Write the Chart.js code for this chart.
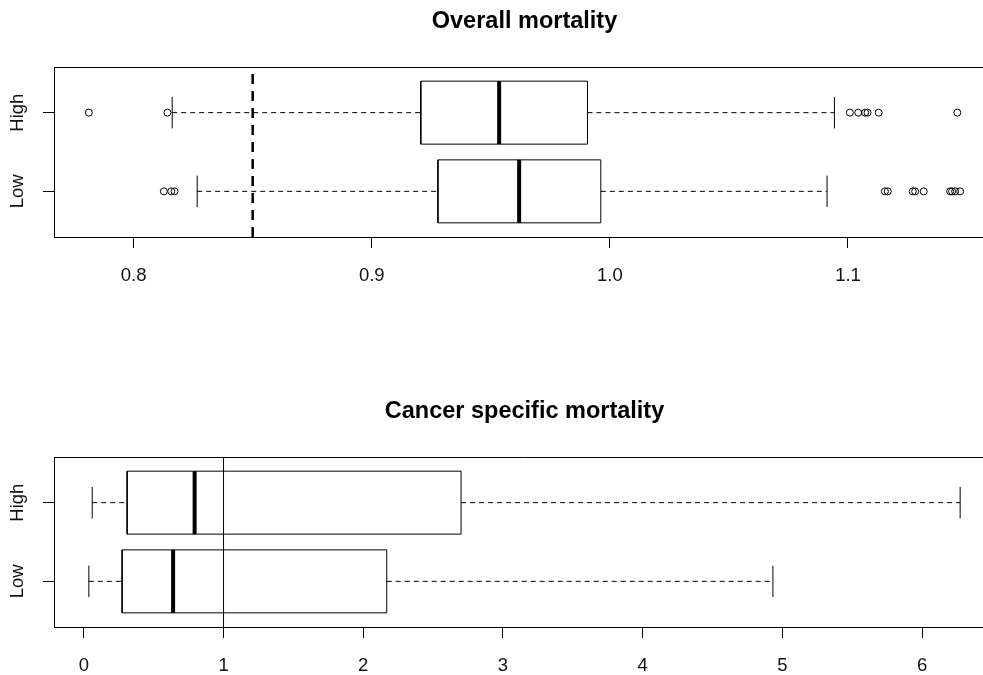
<!DOCTYPE html>
<html lang="en">
<head>
  <meta charset="UTF-8" />
  <title>Overall and cancer specific mortality</title>
  <script src="https://cdn.jsdelivr.net/npm/chart.js@4"></script>
  <style>
    html, body { margin: 0; padding: 0; background: #fff; overflow: hidden; width: 983px; height: 675px; }
    canvas { position: absolute; left: 0; }
    #overallChart { top: 0; }
    #cancerChart { top: 390px; }
  </style>
</head>
<body>
  <canvas id="overallChart" width="1030" height="285"></canvas>
  <canvas id="cancerChart" width="1030" height="285"></canvas>

  <script>
    // groups sit at y = 1 (Low) and y = 2 (High), like R's boxplot
    const groups = ['Low', 'High'];

    // Overall mortality (values per group, Low then High)
    const overallWhiskerLow  = [0.8267, 0.8162];
    const overallQ1          = [0.9278, 0.9206];
    const overallMedian      = [0.9619, 0.9535];
    const overallQ3          = [0.9962, 0.9906];
    const overallWhiskerHigh = [1.0912, 1.0943];
    const overallOutliersLow  = [0.8127, 0.8158, 0.8172, 1.1155, 1.1167, 1.1272, 1.1282, 1.1318, 1.1429, 1.1437, 1.1450, 1.1471];
    const overallOutliersHigh = [0.7812, 0.8142, 1.1008, 1.1043, 1.1072, 1.1082, 1.1129, 1.1459];
    const overallRefLine = 0.85;
    const overallTicks = [0.8, 0.9, 1.0, 1.1];

    // Cancer specific mortality
    const cancerWhiskerLow  = [0.036, 0.06];
    const cancerQ1          = [0.274, 0.31];
    const cancerMedian      = [0.639, 0.793];
    const cancerQ3          = [2.168, 2.70];
    const cancerWhiskerHigh = [4.932, 6.272];
    const cancerOutliersLow  = [];
    const cancerOutliersHigh = [];
    const cancerRefLine = 1;
    const cancerTicks = [0, 1, 2, 3, 4, 5, 6];

    const FONT = '"Liberation Sans", Arial, sans-serif';
    const BOX_HALF = 0.4;   // boxwex 0.8
    const CAP_HALF = 0.2;   // staplewex 0.5
    const Y_MIN = 0.5 - 0.04 * 2;
    const Y_MAX = 2.5 + 0.04 * 2;

    function line(points, width, dash) {
      return {
        data: points,
        showLine: true,
        borderColor: '#000',
        borderWidth: width,
        borderDash: dash || [],
        pointRadius: 0,
        pointHoverRadius: 0,
        fill: false
      };
    }

    // top and right edge of the box round the plot (axes give the other two)
    const framePlugin = {
      id: 'frame',
      afterDraw(chart) {
        const a = chart.chartArea;
        const ctx = chart.ctx;
        const t = Math.round(a.top) + 0.5, r = Math.round(a.right) - 0.5;
        ctx.save();
        ctx.strokeStyle = '#000';
        ctx.lineWidth = 1;
        ctx.beginPath();
        ctx.moveTo(a.left, t);
        ctx.lineTo(r, t);
        ctx.lineTo(r, a.bottom);
        ctx.stroke();
        ctx.restore();
      }
    };

    function drawBoxplot(id, title, wLow, q1, med, q3, wHigh, outLow, outHigh, ref, refWidth, refDash, ticks, decimals) {
      const datasets = [];
      // reference line first so it is drawn on top
      datasets.push(line([{ x: ref, y: Y_MIN }, { x: ref, y: Y_MAX }], refWidth, refDash));

      const outliers = [outLow, outHigh];
      let all = [];
      groups.forEach((g, i) => {
        const y = i + 1;
        datasets.push(line([{ x: med[i], y: y - BOX_HALF }, { x: med[i], y: y + BOX_HALF }], 4));
        datasets.push(line([
          { x: q1[i], y: y - BOX_HALF }, { x: q3[i], y: y - BOX_HALF },
          { x: q3[i], y: y + BOX_HALF }, { x: q1[i], y: y + BOX_HALF },
          { x: q1[i], y: y - BOX_HALF }
        ], 1));
        datasets.push(line([{ x: wLow[i], y: y }, { x: q1[i], y: y }], 1, [5, 4]));
        datasets.push(line([{ x: q3[i], y: y }, { x: wHigh[i], y: y }], 1, [5, 4]));
        datasets.push(line([{ x: wLow[i], y: y - CAP_HALF }, { x: wLow[i], y: y + CAP_HALF }], 1));
        datasets.push(line([{ x: wHigh[i], y: y - CAP_HALF }, { x: wHigh[i], y: y + CAP_HALF }], 1));
        datasets.push({
          data: outliers[i].map(v => ({ x: v, y: y })),
          showLine: false,
          pointStyle: 'circle',
          pointRadius: 3.5,
          pointHoverRadius: 3.5,
          borderWidth: 1,
          borderColor: '#000',
          backgroundColor: 'rgba(0,0,0,0)'
        });
        all = all.concat(wLow[i], wHigh[i], outliers[i]);
      });

      // R pads the data range by 4% on each side
      const lo = Math.min(...all), hi = Math.max(...all);
      const pad = (hi - lo) * 0.04;

      new Chart(document.getElementById(id), {
        type: 'scatter',
        data: { datasets: datasets },
        plugins: [framePlugin],
        options: {
          responsive: false,
          animation: false,
          events: [],
          layout: { padding: { left: 0, right: 35, top: 0, bottom: 0 } },
          plugins: {
            legend: { display: false },
            tooltip: { enabled: false },
            title: {
              display: true,
              text: title,
              fullSize: false,
              color: '#000',
              font: { family: FONT, size: 23.5, weight: 'bold' },
              padding: { top: 7, bottom: 31.8 }
            }
          },
          scales: {
            x: {
              type: 'linear',
              min: lo - pad,
              max: hi + pad,
              afterBuildTicks: s => { s.ticks = ticks.map(v => ({ value: v })); },
              afterFit: s => { s.height = 48; },
              grid: { drawOnChartArea: false, color: '#000', tickLength: 11, tickWidth: 1 },
              border: { display: true, color: '#000', width: 1 },
              ticks: {
                autoSkip: false,
                maxRotation: 0,
                padding: 17,
                color: '#111',
                font: { family: FONT, size: 18.5 },
                callback: v => Number(v).toFixed(decimals)
              }
            },
            y: {
              type: 'linear',
              min: Y_MIN,
              max: Y_MAX,
              afterBuildTicks: s => { s.ticks = groups.map((g, i) => ({ value: i + 1 })); },
              afterFit: s => { s.width = 54; },
              grid: { drawOnChartArea: false, color: '#000', tickLength: 11, tickWidth: 1 },
              border: { display: true, color: '#000', width: 1 },
              ticks: {
                minRotation: 90,
                maxRotation: 90,
                crossAlign: 'center',
                padding: 6,
                color: '#111',
                font: { family: FONT, size: 18.5 },
                callback: v => groups[Math.round(v) - 1]
              }
            }
          }
        }
      });
    }

    drawBoxplot('overallChart', 'Overall mortality',
      overallWhiskerLow, overallQ1, overallMedian, overallQ3, overallWhiskerHigh,
      overallOutliersLow, overallOutliersHigh, overallRefLine, 2.5, [10, 7], overallTicks, 1);

    drawBoxplot('cancerChart', 'Cancer specific mortality',
      cancerWhiskerLow, cancerQ1, cancerMedian, cancerQ3, cancerWhiskerHigh,
      cancerOutliersLow, cancerOutliersHigh, cancerRefLine, 1, [], cancerTicks, 0);
  </script>
</body>
</html>
